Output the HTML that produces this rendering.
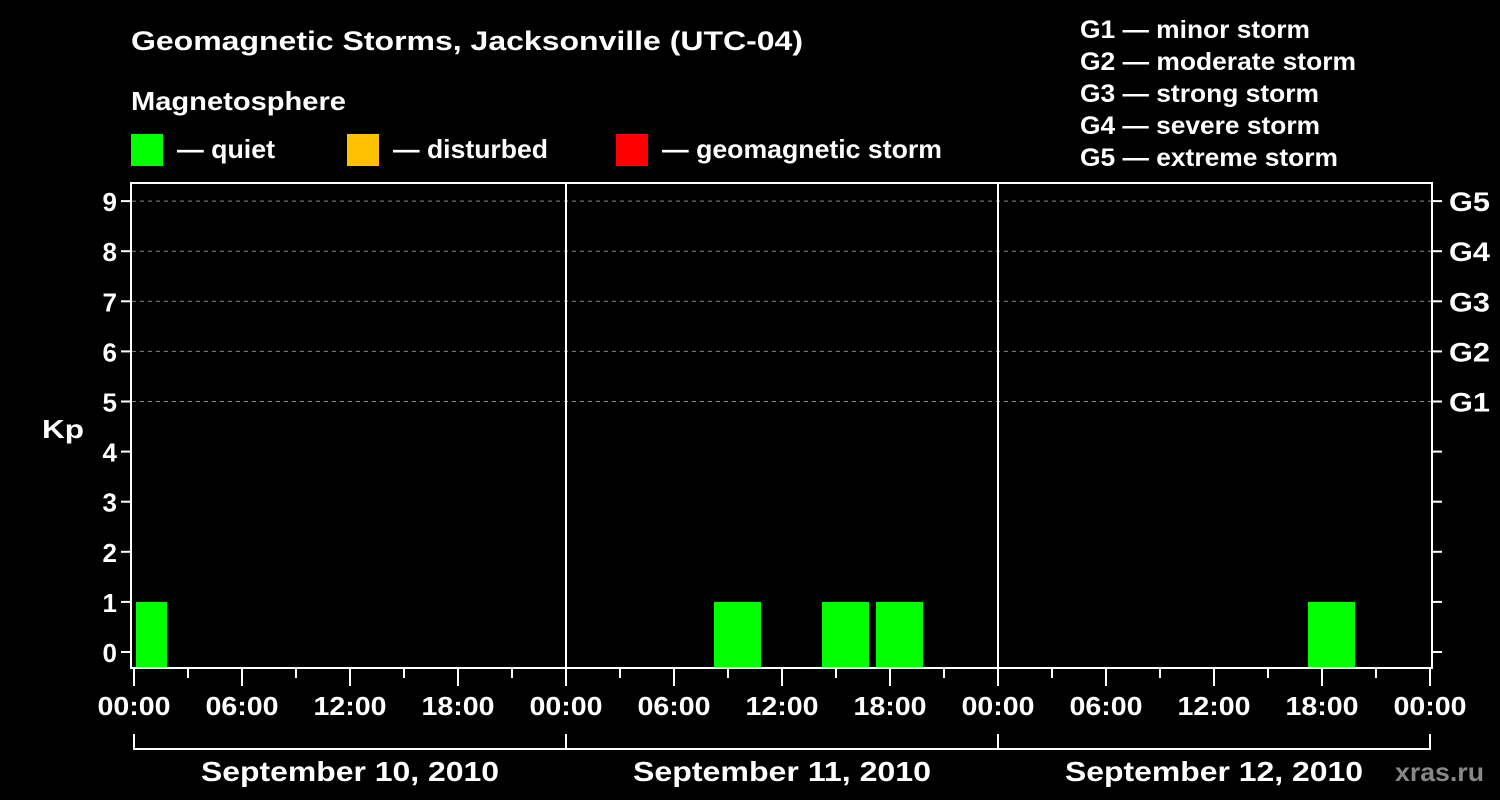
<!DOCTYPE html>
<html><head><meta charset="utf-8"><style>
html,body{margin:0;padding:0;background:#000;}
svg{display:block;font-family:"Liberation Sans",Arial,sans-serif;font-weight:bold;}
</style></head><body>
<svg id="chart" width="1500" height="800" viewBox="0 0 1500 800" xmlns="http://www.w3.org/2000/svg">
<rect width="1500" height="800" fill="#000"/>
<text x="131" y="50" fill="#fff" font-size="27" textLength="672" lengthAdjust="spacingAndGlyphs">Geomagnetic Storms, Jacksonville (UTC-04)</text>
<text x="131" y="110" fill="#fff" font-size="26" textLength="215" lengthAdjust="spacingAndGlyphs">Magnetosphere</text>
<g><rect x="131" y="134" width="32" height="32" fill="#00ff00"/><text x="177" y="158" fill="#fff" font-size="26" textLength="98" lengthAdjust="spacingAndGlyphs">— quiet</text></g>
<g><rect x="347" y="134" width="32" height="32" fill="#ffc000"/><text x="393" y="158" fill="#fff" font-size="26" textLength="155" lengthAdjust="spacingAndGlyphs">— disturbed</text></g>
<g><rect x="616" y="134" width="32" height="32" fill="#ff0000"/><text x="662" y="158" fill="#fff" font-size="26" textLength="280" lengthAdjust="spacingAndGlyphs">— geomagnetic storm</text></g>
<g fill="#fff" font-size="25" lengthAdjust="spacingAndGlyphs">
<text x="1080" y="38" textLength="230" lengthAdjust="spacingAndGlyphs">G1 — minor storm</text>
<text x="1080" y="70" textLength="276" lengthAdjust="spacingAndGlyphs">G2 — moderate storm</text>
<text x="1080" y="102" textLength="239" lengthAdjust="spacingAndGlyphs">G3 — strong storm</text>
<text x="1080" y="134" textLength="240" lengthAdjust="spacingAndGlyphs">G4 — severe storm</text>
<text x="1080" y="166" textLength="258" lengthAdjust="spacingAndGlyphs">G5 — extreme storm</text>
</g>
<text x="42" y="438" fill="#fff" font-size="26" textLength="42" lengthAdjust="spacingAndGlyphs">Kp</text>
<g id="grid"></g>
<g id="bars"></g>
<rect x="131" y="183" width="1301" height="485" fill="none" stroke="#fff" stroke-width="2"/>
<g id="axes"></g>
<text x="1395" y="781" fill="#888" font-size="26" textLength="89" lengthAdjust="spacingAndGlyphs">xras.ru</text>
</svg>
<script>
const kpTicks=[0,1,2,3,4,5,6,7,8,9];
const gLabels=["G1","G2","G3","G4","G5"];
const gLevels=[5,6,7,8,9];
const dayLabels=["September 10, 2010","September 11, 2010","September 12, 2010"];
const timeLabels=["00:00","06:00","12:00","18:00"];
// bar intervals: start hour from Sep 10 00:00 local, Kp value
const barStarts=[-1,32,38,41,65];
const barValues=[1,1,1,1,1];
const ns="http://www.w3.org/2000/svg";
const X0=134,PXH=18,Y0=652,PXK=50.1,XMIN=134,XMAX=1430;
const xs=h=>X0+h*PXH, ys=k=>Y0-k*PXK;
function mk(tag,attrs,parent){const e=document.createElementNS(ns,tag);for(const k in attrs)e.setAttribute(k,attrs[k]);parent.appendChild(e);return e;}
const grid=document.getElementById('grid'),bars=document.getElementById('bars'),axes=document.getElementById('axes');
gLevels.forEach((lv,i)=>{
 const l=mk('line',{x1:132,x2:1431,y1:ys(lv),y2:ys(lv),stroke:'#888','stroke-dasharray':'4,4','stroke-width':1},grid);
 
 
 const t=mk('text',{x:1449,y:ys(lv)+10,fill:'#fff','font-size':27,textLength:41,lengthAdjust:'spacingAndGlyphs'},axes);t.textContent=gLabels[i];
 
 
});
for(let d=1;d<dayLabels.length;d++){
 const l=mk('line',{x1:xs(d*24),x2:xs(d*24),y1:183,y2:668,stroke:'#fff','stroke-width':2},grid);
 
 
}
barStarts.forEach((s,i)=>{
 let a=Math.max(xs(s)+4,XMIN+2),b=Math.min(xs(s+3)-3,XMAX-2);
 const top=ys(barValues[i]);
 const r=mk('rect',{x:a,y:top,width:b-a,height:667-top,fill:barValues[i]>=5?'#ff0000':(barValues[i]>=4?'#ffc000':'#00ff00')},bars);
 
 
});
kpTicks.forEach(k=>{
 mk('line',{x1:121,x2:131,y1:ys(k),y2:ys(k),stroke:'#fff','stroke-width':2},axes);
 mk('line',{x1:1432,x2:1442,y1:ys(k),y2:ys(k),stroke:'#fff','stroke-width':2},axes);
 const t=mk('text',{x:117,y:ys(k)+10,fill:'#fff','font-size':26,'text-anchor':'end'},axes);t.textContent=k;
 
 
});
for(let h=0;h<=72;h+=3){
 const major=h%6===0;
 mk('line',{x1:xs(h),x2:xs(h),y1:668,y2:major?686:678,stroke:'#fff','stroke-width':2},axes);
 if(major){
  const t=mk('text',{x:xs(h),y:715,fill:'#fff','font-size':26,'text-anchor':'middle',textLength:73,lengthAdjust:'spacingAndGlyphs'},axes);
  t.textContent=timeLabels[(h/6)%4];
  
  
 }
}
dayLabels.forEach((lab,d)=>{
 const a=xs(d*24),b=xs(d*24+24);
 mk('line',{x1:a,x2:b,y1:749,y2:749,stroke:'#fff','stroke-width':2},axes);
 mk('line',{x1:a,x2:a,y1:734,y2:750,stroke:'#fff','stroke-width':2},axes);
 mk('line',{x1:b,x2:b,y1:734,y2:750,stroke:'#fff','stroke-width':2},axes);
 const t=mk('text',{x:(a+b)/2,y:781,fill:'#fff','font-size':28,'text-anchor':'middle',textLength:298,lengthAdjust:'spacingAndGlyphs'},axes);t.textContent=lab;
 
 
});
</script>
</body></html>
